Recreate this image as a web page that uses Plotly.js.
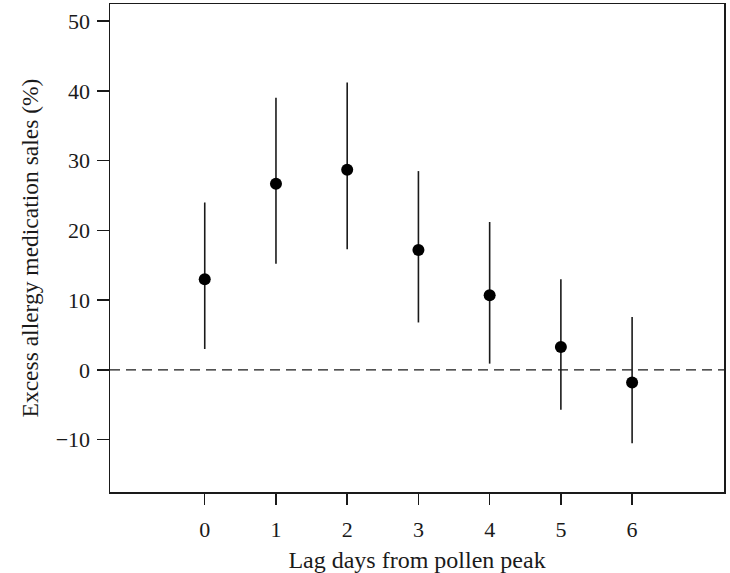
<!DOCTYPE html>
<html>
<head>
<meta charset="utf-8">
<script src="https://cdn.plot.ly/plotly-3.0.1.min.js"></script>
<style>body{margin:0;background:#fff}#chart{width:730px;height:573px}</style>
</head>
<body>
<div id="chart"></div>
<script>
const lagDays = [0, 1, 2, 3, 4, 5, 6];
const excessSales = [13.0, 26.7, 28.7, 17.2, 10.7, 3.3, -1.8];
const upperCI = [24.0, 39.0, 41.2, 28.5, 21.2, 13.0, 7.6];
const lowerCI = [3.0, 15.2, 17.3, 6.8, 0.9, -5.7, -10.5];
const xTickVals = [0, 1, 2, 3, 4, 5, 6];
const yTickVals = [-10, 0, 10, 20, 30, 40, 50];
const yTickText = ['\u221210', '0', '10', '20', '30', '40', '50'];

const errPlus = upperCI.map((u, i) => u - excessSales[i]);
const errMinus = excessSales.map((v, i) => v - lowerCI[i]);

const ink = '#1a1a1a';
const serif = '"Liberation Serif", "DejaVu Serif", serif';

const trace = {
  x: lagDays,
  y: excessSales,
  type: 'scatter',
  mode: 'markers',
  marker: {size: 12, color: '#000'},
  error_y: {type: 'data', symmetric: false, array: errPlus, arrayminus: errMinus,
            width: 0, thickness: 1.6, color: ink},
  showlegend: false,
  hoverinfo: 'x+y'
};

const layout = {
  width: 730, height: 573,
  margin: {l: 110, r: 6, t: 4, b: 81},
  paper_bgcolor: '#fff', plot_bgcolor: '#fff',
  font: {family: serif, color: ink, size: 22},
  xaxis: {
    range: [-1.33, 7.29],
    tickvals: xTickVals,
    ticks: 'outside', ticklen: 11, tickwidth: 1.5, tickcolor: ink,
    ticklabelstandoff: 6,
    showline: true, linecolor: ink, linewidth: 1.5, mirror: true,
    showgrid: false, zeroline: false,
    tickfont: {family: serif, size: 22, color: ink},
    title: {text: 'Lag days from pollen peak', font: {family: serif, size: 24, color: ink}, standoff: 10}
  },
  yaxis: {
    range: [-17.5, 52.45],
    tickvals: yTickVals, ticktext: yTickText,
    ticks: 'outside', ticklen: 12, tickwidth: 1.5, tickcolor: ink,
    ticklabelstandoff: 2,
    showline: true, linecolor: ink, linewidth: 1.5, mirror: true,
    showgrid: false, zeroline: false,
    tickfont: {family: serif, size: 22, color: ink},
    title: {text: 'Excess allergy medication sales (%)', font: {family: serif, size: 23.5, color: ink}, standoff: 10}
  },
  shapes: [{
    type: 'line', xref: 'paper', x0: 0, x1: 1, yref: 'y', y0: 0, y1: 0,
    line: {color: ink, width: 1.4, dash: '10px,6px'}
  }]
};

Plotly.newPlot('chart', [trace], layout, {displayModeBar: false, staticPlot: true});
</script>
</body>
</html>
